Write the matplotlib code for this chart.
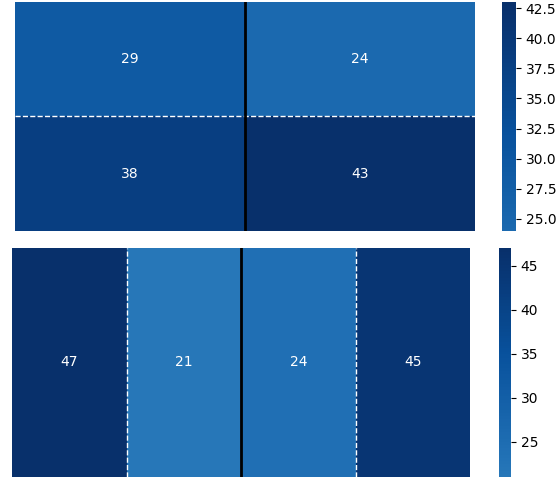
import numpy as np
import matplotlib
matplotlib.use("Agg")
import matplotlib.pyplot as plt
import seaborn as sns

# data
top_vals = [[29, 24],
            [38, 43]]
bottom_vals = [[47, 21, 24, 45]]

W, H = 559, 479
fig = plt.figure(figsize=(W / 100, H / 100), dpi=100)


def box(x0, y0, x1, y1):
    # pixel box -> figure coords
    return [x0 / W, 1 - y1 / H, (x1 - x0) / W, (y1 - y0) / H]


ax1 = fig.add_axes(box(15, 2, 475, 231))
cax1 = fig.add_axes(box(502, 2, 516, 231))
ax2 = fig.add_axes(box(12, 248, 470, 477))
cax2 = fig.add_axes(box(499, 248, 511, 477))

sns.heatmap(np.array(top_vals), ax=ax1, cbar_ax=cax1, cmap="Blues", center=0,
            annot=True, fmt="d", xticklabels=False, yticklabels=False)
ax1.axhline(1, color="white", ls="--", lw=1)
ax1.axvline(1, color="black", lw=2)

sns.heatmap(np.array(bottom_vals), ax=ax2, cbar_ax=cax2, cmap="Blues", center=0,
            annot=True, fmt="d", xticklabels=False, yticklabels=False)
for x in [1, 3]:
    ax2.axvline(x, color="white", ls="--", lw=1)
ax2.axvline(2, color="black", lw=2)

plt.savefig("out.png", dpi=100)
